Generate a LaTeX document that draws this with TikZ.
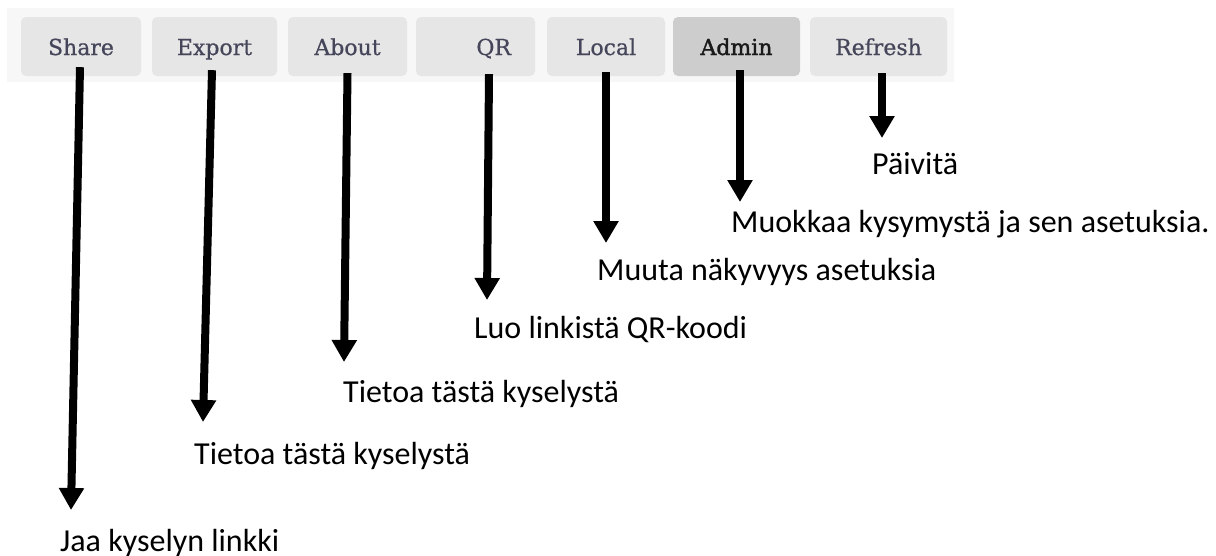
\documentclass[tikz,border=0pt]{standalone}
\usepackage{fontspec}
\setmainfont{Carlito}
\newfontfamily\btnfont[FakeBold=0.7]{DejaVu Serif}
\newfontfamily\btnboldfont[FakeBold=1.6]{DejaVu Serif}
\usetikzlibrary{arrows.meta}
\definecolor{stripgray}{HTML}{F7F7F7}
\definecolor{btngray}{HTML}{E6E6E6}
\definecolor{btndark}{HTML}{CDCDCD}
\definecolor{btntext}{HTML}{45465A}
\tikzset{
  btn/.style={fill=btngray, rounded corners=5pt, minimum height=59pt, inner sep=0pt,
    text height=19pt, text depth=2pt,
    text=btntext, font=\btnfont\fontsize{22}{24}\selectfont},
  tip/.style={line width=8pt, -{Triangle[width=24pt,length=22pt]}},
  hint/.style={anchor=base west, inner sep=0pt, font=\fontsize{32}{38}\selectfont}
}
\begin{document}
\begin{tikzpicture}[x=1pt,y=-1pt]
        \useasboundingbox (0,0) rectangle (1216,555);
        \fill[stripgray] (7,8) rectangle (954,82);

        \node[btn, minimum width=120pt] (share) at (81,46.5) {Share};
        \node[btn, minimum width=125pt] (export) at (214.5,46.5) {Export};
        \node[btn, minimum width=119pt] (about) at (347.5,46.5) {About};
        \node[btn, minimum width=119pt, text width=71pt, align=right] (qr) at (475.5,46.5) {QR};
        \node[btn, minimum width=118pt] (local) at (606,46.5) {Local};
        \node[btn, minimum width=127pt, fill=btndark, text=black!90,
          font=\btnboldfont\fontsize{22}{24}\selectfont] (admin) at (736.5,46.5) {Admin};
        \node[btn, minimum width=137pt] (refresh) at (878.5,46.5) {Refresh};

        \node[hint] (paivita) at (872,174) {Päivitä};
        \node[hint] (muokkaa) at (731,232) {Muokkaa kysymystä ja sen asetuksia.};
        \node[hint] (muuta) at (597,280) {Muuta näkyvyys asetuksia};
        \node[hint] (luo) at (474,338) {Luo linkistä QR-koodi};
        \node[hint] (tietoa) at (343,402) {Tietoa tästä kyselystä};
        \node[hint] (tietoaexp) at (194,464) {Tietoa tästä kyselystä};
        \node[hint] (jaa) at (60,551) {Jaa kyselyn linkki};

        \coordinate (shareend) at (71,510);
        \coordinate (exportend) at (203,422);
        \coordinate (aboutend) at (344,362);
        \coordinate (qrend) at (487,300);
        \coordinate (localend) at (606,243);
        \coordinate (adminend) at (740,202);
        \coordinate (refreshend) at (882,138);

        \draw[tip] ([xshift=-1pt,yshift=9pt]share.south) -- (shareend);
        \draw[tip] ([xshift=-2.5pt,yshift=6pt]export.south) -- (exportend);
        \draw[tip] ([yshift=3pt]about.south) -- (aboutend);
        \draw[tip] ([xshift=13.5pt,yshift=2pt]qr.south) -- (qrend);
        \draw[tip] ([yshift=4pt]local.south) -- (localend);
        \draw[tip] ([xshift=3.5pt,yshift=6pt]admin.south) -- (adminend);
        \draw[tip] ([xshift=3.5pt,yshift=3pt]refresh.south) -- (refreshend);
\end{tikzpicture}
\end{document}
